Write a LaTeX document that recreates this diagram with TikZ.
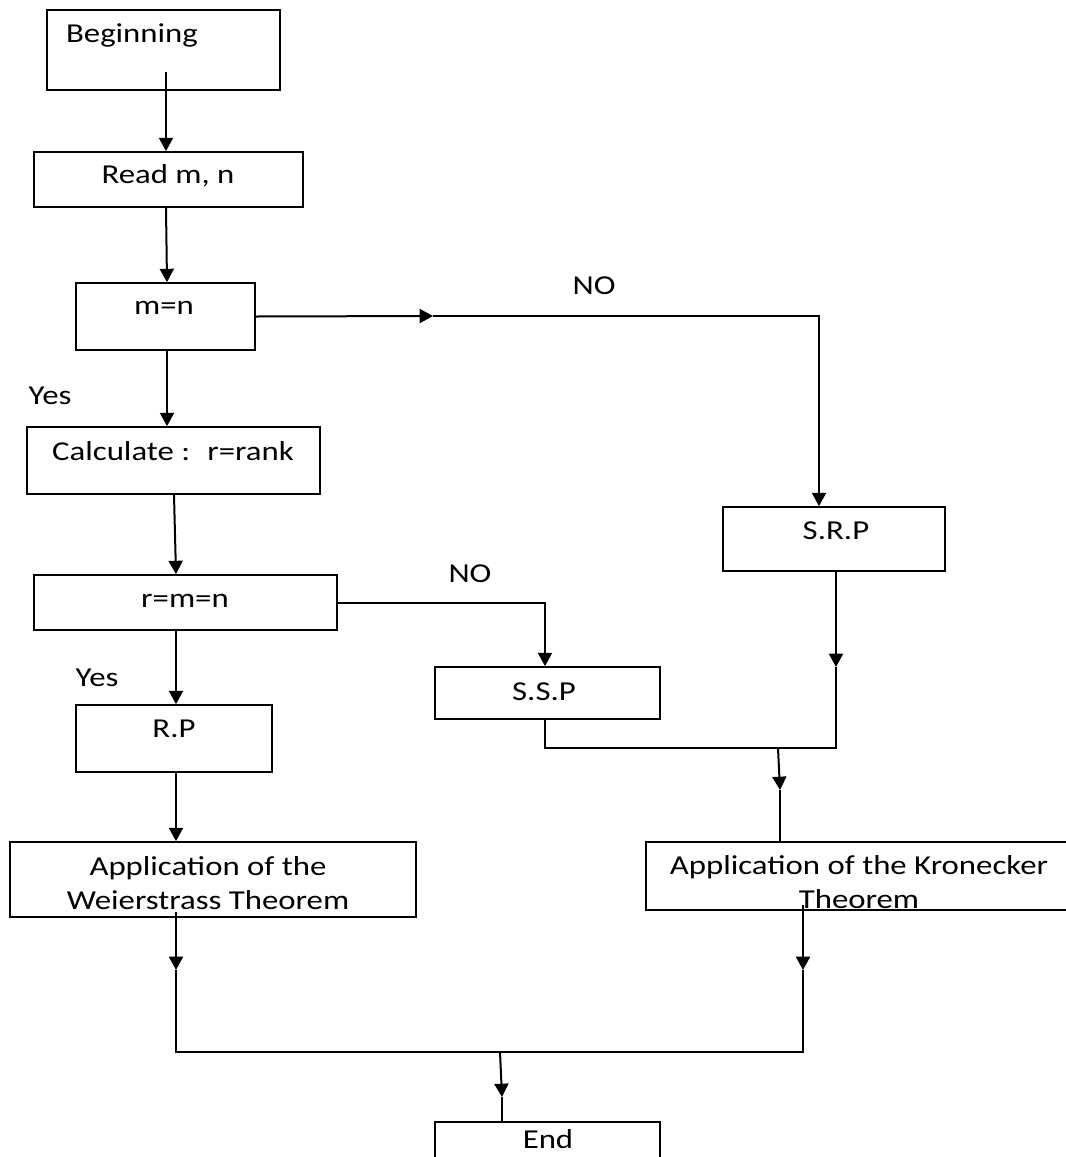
\documentclass[tikz,border=0pt]{standalone}
\usepackage{fontspec}
\setmainfont{Carlito}[FakeStretch=1.2]
\usetikzlibrary{arrows.meta,fit,calc}
\begin{document}
\begin{tikzpicture}[x=0.75pt,y=-0.75pt,
  box/.style={draw, line width=1.3pt, inner sep=0pt, rectangle},
  txt/.style={font=\fontsize{20.5pt}{25pt}\selectfont, inner sep=0pt, align=center},
  ln/.style={line width=1.5pt},
  arr/.style={line width=1.5pt, -{Triangle[width=10.5pt,length=10pt]}}]
\useasboundingbox (0,0) rectangle (1066,1157);
\clip (0,0) rectangle (1066,1157);
\fill[white] (0,0) rectangle (1066,1157);
% boxes
\node[box, fit={(47,10) (280,90)}] (beg) {};
\node[box, fit={(34,152) (303,207)}] (read) {};
\node[box, fit={(76,283) (255,350)}] (mn) {};
\node[box, fit={(27,427) (320,494)}] (calc) {};
\node[box, fit={(34,575) (337,630)}] (rmn) {};
\node[box, fit={(76,705) (272,772)}] (rp) {};
\node[box, fit={(10,842) (416,917)}] (wei) {};
\node[box, fit={(723,507) (945,571)}] (srp) {};
\node[box, fit={(435,667) (660,719)}] (ssp) {};
\node[box, fit={(646,842) (1100,910)}] (kro) {};
\node[box, fit={(435,1122) (660,1190)}] (endb) {};
% texts
\node[txt] (tbeg) at (132,35) {Beginning};
\node[txt] (tread) at (168,176) {Read m, n};
\node[txt] (tmn) at (164,308) {m=n};
\node[txt] (tcalc) at (173,451) {Calculate : \ r=rank};
\node[txt] (trmn) at (185,601) {r=m=n};
\node[txt] (trp) at (174,729) {R.P};
\node[txt] (twei) at (208,883) {Application of the\\Weierstrass Theorem};
\node[txt] (tsrp) at (836,531) {S.R.P};
\node[txt] (tssp) at (544,692) {S.S.P};
\node[txt] (tkro) at (859,882) {Application of the Kronecker\\Theorem};
\node[txt] (tend) at (548,1139) {End};
\node[txt] (no1) at (594,286) {NO};
\node[txt] (no2) at (470,574) {NO};
\node[txt] (yes1) at (50,396) {Yes};
\node[txt] (yes2) at (97,678) {Yes};
% coordinates
\coordinate (s1) at (166,72);
\coordinate (m1) at (433,316);
\coordinate (k1) at (819,316);
\coordinate (m2) at (836,667);
\coordinate (j1) at (778,748);
\coordinate (j0) at (545,748);
\coordinate (a3) at (780,790);
\coordinate (w1) at (176,912);
\coordinate (a4) at (176,970);
\coordinate (k5) at (803,905);
\coordinate (a5) at (803,970);
\coordinate (j2) at (500,1052);
\coordinate (a6) at (502,1097);
% connectors
\draw[arr] (s1) -- (s1 |- read.north);
\draw[arr] (read.south -| 166,0) -- (mn.north -| 167,0);
\draw[arr] (mn.east) -- (m1);
\draw[arr] (m1) -- (k1) -- (k1 |- srp.north);
\draw[arr] (mn.south -| 167,0) -- (calc.north -| 167,0);
\draw[arr] (calc.south -| 174,0) -- (rmn.north -| 176,0);
\draw[arr] (rmn.south -| 176,0) -- (rp.north -| 176,0);
\draw[arr] (rmn.east) -| (j0 |- ssp.north);
\draw[arr] (rp.south -| 176,0) -- (wei.north -| 176,0);
\draw[arr] (srp.south -| m2) -- (m2);
\draw[ln] (m2) -- (m2 |- j1) -- (j1) -- (j0) -- (j0 |- ssp.south);
\draw[arr] (j1) -- (a3);
\draw[ln] (a3) -- (a3 |- kro.north);
\draw[arr] (w1) -- (a4);
\draw[arr] (k5) -- (a5);
\draw[ln] (a4) -- (a4 |- j2) -- (a5 |- j2) -- (a5);
\draw[arr] (j2) -- (a6);
\draw[ln] (a6) -- (a6 |- endb.north);
\end{tikzpicture}
\end{document}
